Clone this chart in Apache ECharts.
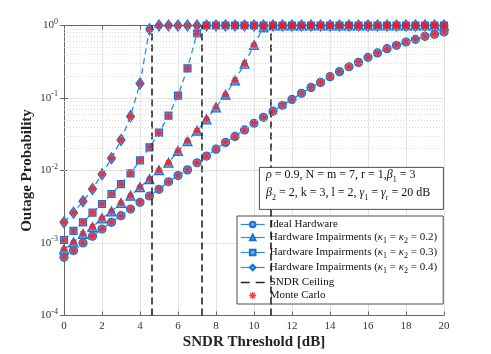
<!DOCTYPE html>
<html>
<head>
<meta charset="utf-8">
<script src="https://cdn.jsdelivr.net/npm/echarts@6/dist/echarts.min.js"></script>
<style>
  html, body { margin: 0; padding: 0; background: #fff; }
  #chart { width: 491px; height: 354px; }
</style>
</head>
<body>
<div id="chart"></div>
<script>
// SNDR threshold (dB), one point every 0.5 dB
const snrDb = [0, 0.5, 1, 1.5, 2, 2.5, 3, 3.5, 4, 4.5, 5, 5.5, 6, 6.5, 7, 7.5, 8, 8.5, 9, 9.5,
  10, 10.5, 11, 11.5, 12, 12.5, 13, 13.5, 14, 14.5, 15, 15.5, 16, 16.5, 17, 17.5, 18, 18.5, 19, 19.5, 20];

const ideal = [6.35e-4, 7.9e-4, 1.0e-3, 1.24e-3, 1.56e-3, 1.93e-3, 2.38e-3, 2.94e-3, 3.64e-3, 4.45e-3,
  5.5e-3, 7.0e-3, 8.5e-3, 0.0102, 0.0128, 0.0158, 0.0197, 0.0244, 0.0295, 0.0363,
  0.0448, 0.0542, 0.0658, 0.0792, 0.0955, 0.116, 0.140, 0.164, 0.197, 0.231,
  0.27, 0.31, 0.364, 0.418, 0.479, 0.533, 0.592, 0.645, 0.71, 0.756, 0.813];

const hwi02 = [8.2e-4, 1.02e-3, 1.34e-3, 1.66e-3, 2.19e-3, 2.73e-3, 3.56e-3, 4.5e-3, 5.9e-3, 7.6e-3,
  0.0101, 0.0128, 0.0186, 0.0255, 0.0354, 0.0508, 0.0743, 0.111, 0.175, 0.297,
  0.538, 0.945, 1, 1, 1, 1, 1, 1, 1, 1,
  1, 1, 1, 1, 1, 1, 1, 1, 1, 1, 1];

const hwi03 = [1.1e-3, 1.47e-3, 1.93e-3, 2.62e-3, 3.45e-3, 4.74e-3, 6.5e-3, 9.1e-3, 0.0138, 0.0209,
  0.0333, 0.057, 0.108, 0.257, 0.78, 1, 1, 1, 1, 1,
  1, 1, 1, 1, 1, 1, 1, 1, 1, 1,
  1, 1, 1, 1, 1, 1, 1, 1, 1, 1, 1];

const hwi04 = [1.93e-3, 2.62e-3, 3.76e-3, 5.56e-3, 8.9e-3, 0.0147, 0.0264, 0.0559, 0.158, 0.885,
  1, 1, 1, 1, 1, 1, 1, 1, 1, 1,
  1, 1, 1, 1, 1, 1, 1, 1, 1, 1,
  1, 1, 1, 1, 1, 1, 1, 1, 1, 1, 1];

// SNDR ceilings (dB) for kappa = 0.4, 0.3, 0.2
const ceilings = [4.62, 7.26, 10.88];

// minor log grid levels
const minorLevels = [2e-4, 3e-4, 4e-4, 5e-4, 6e-4, 7e-4, 8e-4, 9e-4,
  2e-3, 3e-3, 4e-3, 5e-3, 6e-3, 7e-3, 8e-3, 9e-3,
  2e-2, 3e-2, 4e-2, 5e-2, 6e-2, 7e-2, 8e-2, 9e-2,
  0.2, 0.3, 0.4, 0.5, 0.6, 0.7, 0.8, 0.9];

const FONT = 'Liberation Serif';
const BLUE = '#2f8ae6';
const EDGE = '#1b70d6';
const FILL = '#62aef0';

const pairs = (ys) => snrDb.map((x, i) => [x, ys[i]]);

const curves = [
  { name: 'Ideal Hardware', data: ideal, symbol: 'circle', size: 8 },
  { name: 'HWI 0.2', data: hwi02, symbol: 'triangle', size: 9 },
  { name: 'HWI 0.3', data: hwi03, symbol: 'rect', size: 7 },
  { name: 'HWI 0.4', data: hwi04, symbol: 'diamond', size: [8, 11] }
];

const legendText = {
  'Ideal Hardware': '{n|Ideal Hardware}',
  'HWI 0.2': '{n|Hardware Impairments (}{i|κ}{sub|1}{n| = }{i|κ}{sub|2}{n| = 0.2)}',
  'HWI 0.3': '{n|Hardware Impairments (}{i|κ}{sub|1}{n| = }{i|κ}{sub|2}{n| = 0.3)}',
  'HWI 0.4': '{n|Hardware Impairments (}{i|κ}{sub|1}{n| = }{i|κ}{sub|2}{n| = 0.4)}',
  'SNDR Ceiling': '{n|SNDR Ceiling}',
  'Monte Carlo': '{n|Monte Carlo}'
};

const asterisk = 'path://M-1,-5L1,-5L1,5L-1,5Z M-5,-1L5,-1L5,1L-5,1Z ' +
  'M-2.83,-4.25L4.25,2.83L2.83,4.25L-4.25,-2.83Z ' +
  'M-4.25,2.83L2.83,-4.25L4.25,-2.83L-2.83,4.25Z';

const textRich = {
  n: { fontFamily: FONT, fontSize: 11, color: '#111', lineHeight: 15, verticalAlign: 'middle' },
  i: { fontFamily: FONT, fontSize: 11, fontStyle: 'italic', color: '#111', lineHeight: 15, verticalAlign: 'middle' },
  sub: { fontFamily: FONT, fontSize: 8, color: '#111', lineHeight: 8, verticalAlign: 'bottom' }
};

const chart = echarts.init(document.getElementById('chart'));

const series = curves.map(c => ({
  name: c.name,
  type: 'line',
  data: pairs(c.data),
  symbol: c.symbol,
  symbolSize: c.size,
  showAllSymbol: true,
  clip: false,
  z: 3,
  lineStyle: { color: BLUE, width: 1.3, type: [6, 4] },
  itemStyle: { color: FILL, borderColor: EDGE, borderWidth: 1.2 }
}));

series.push({
  name: 'SNDR Ceiling',
  type: 'line',
  data: [],
  symbol: 'none',
  symbolSize: 0,
  z: 2,
  lineStyle: { color: '#222', width: 1.6, type: [7, 4] },
  itemStyle: { color: '#222' },
  markLine: {
    silent: true,
    symbol: 'none',
    label: { show: false },
    lineStyle: { color: '#222', width: 1.6, type: [7, 4] },
    data: ceilings.map(v => ({ xAxis: v }))
  }
});

series.push({
  name: 'Monte Carlo',
  type: 'scatter',
  data: [].concat(pairs(ideal), pairs(hwi02), pairs(hwi03), pairs(hwi04)),
  symbol: asterisk,
  symbolSize: 7,
  clip: false,
  z: 5,
  itemStyle: { color: '#ff1414' }
});

// minor grid helper
series.push({
  name: 'minor',
  type: 'line',
  data: [],
  z: 1,
  markLine: {
    silent: true,
    symbol: 'none',
    label: { show: false },
    lineStyle: { color: '#cfcfcf', width: 0.8, type: [1, 2] },
    data: minorLevels.map(v => ({ yAxis: v }))
  }
});

const option = {
  animation: false,
  backgroundColor: '#fff',
  grid: { left: 64, right: 47, top: 25.5, bottom: 38.5, containLabel: false, outerBoundsMode: 'none' },
  xAxis: [{
    type: 'value', min: 0, max: 20, interval: 2,
    name: 'SNDR Threshold [dB]', nameLocation: 'middle', nameGap: 19, nameMoveOverlap: false,
    nameTextStyle: { fontFamily: FONT, fontWeight: 'bold', fontSize: 15, color: '#222' },
    axisLine: { lineStyle: { color: '#666', width: 1 } },
    axisTick: { inside: true, length: 4, lineStyle: { color: '#666' } },
    axisLabel: { fontFamily: FONT, fontSize: 11, color: '#333', margin: 5 },
    splitLine: { show: true, lineStyle: { color: '#e4e4e4', width: 1 } }
  }, {
    type: 'value', min: 0, max: 20, interval: 2, position: 'top',
    axisLine: { show: true, lineStyle: { color: '#666', width: 1 } },
    axisTick: { inside: true, length: 4, lineStyle: { color: '#666' } },
    axisLabel: { show: false },
    splitLine: { show: false }
  }],
  yAxis: [{
    type: 'log', logBase: 10, min: 1e-4, max: 1,
    name: 'Outage Probability', nameLocation: 'middle', nameGap: 29, nameMoveOverlap: false,
    nameTextStyle: { fontFamily: FONT, fontWeight: 'bold', fontSize: 15, color: '#222' },
    axisLine: { show: true, lineStyle: { color: '#666', width: 1 } },
    axisTick: { show: true, inside: true, length: 4, lineStyle: { color: '#666' } },
    axisLabel: {
      margin: 6,
      formatter: v => '{b|10}{s|' + Math.round(Math.log10(v)) + '}',
      rich: {
        b: { fontFamily: FONT, fontSize: 11, color: '#333', lineHeight: 16, verticalAlign: 'middle' },
        s: { fontFamily: FONT, fontSize: 8, color: '#333', lineHeight: 8, verticalAlign: 'top' }
      }
    },
    splitLine: { show: true, lineStyle: { color: '#e4e4e4', width: 1 } }
  }, {
    type: 'log', logBase: 10, min: 1e-4, max: 1, position: 'right',
    axisLine: { show: true, lineStyle: { color: '#666', width: 1 } },
    axisTick: { show: true, inside: true, length: 4, lineStyle: { color: '#666' } },
    axisLabel: { show: false },
    splitLine: { show: false }
  }],
  legend: {
    orient: 'vertical',
    left: 237, top: 216,
    itemWidth: 24, itemHeight: 7, itemGap: 2,
    padding: [3, 6, 3, 3],
    backgroundColor: '#fff',
    borderColor: '#222', borderWidth: 0.8, borderRadius: 0,
    lineStyle: { type: 'solid', width: 1.2 },
    textStyle: { fontFamily: FONT, fontSize: 11, color: '#111', rich: textRich },
    formatter: name => legendText[name] || name,
    data: [
      { name: 'Ideal Hardware' },
      { name: 'HWI 0.2' },
      { name: 'HWI 0.3' },
      { name: 'HWI 0.4' },
      { name: 'SNDR Ceiling', lineStyle: { type: [9, 6], width: 1.4 }, itemStyle: { opacity: 0 } },
      { name: 'Monte Carlo' }
    ]
  },
  graphic: [{
    type: 'rect',
    left: 259, top: 167,
    shape: { width: 184, height: 42 },
    style: { fill: '#fff', stroke: '#222', lineWidth: 0.8 },
    z: 50
  }, {
    type: 'text',
    left: 266, top: 169,
    z: 51,
    style: {
      text: '{i|ρ}{n| = 0.9, N = m = 7, r = 1,}{i|β}{sub|1}{n| = 3}\n' +
        '{i|β}{sub|2}{n| = 2, k = 3, l = 2, }{i|γ}{sub|1}{n| = }{i|γ}{sub|r}{n| = 20 dB}',
      rich: {
        n: { fontFamily: FONT, fontSize: 12, fill: '#111', lineHeight: 18, verticalAlign: 'middle' },
        i: { fontFamily: FONT, fontSize: 12, fontStyle: 'italic', fill: '#111', lineHeight: 18, verticalAlign: 'middle' },
        sub: { fontFamily: FONT, fontSize: 8, fill: '#111', lineHeight: 9, verticalAlign: 'bottom' }
      }
    }
  }],
  series: series
};

chart.setOption(option);
</script>
</body>
</html>
